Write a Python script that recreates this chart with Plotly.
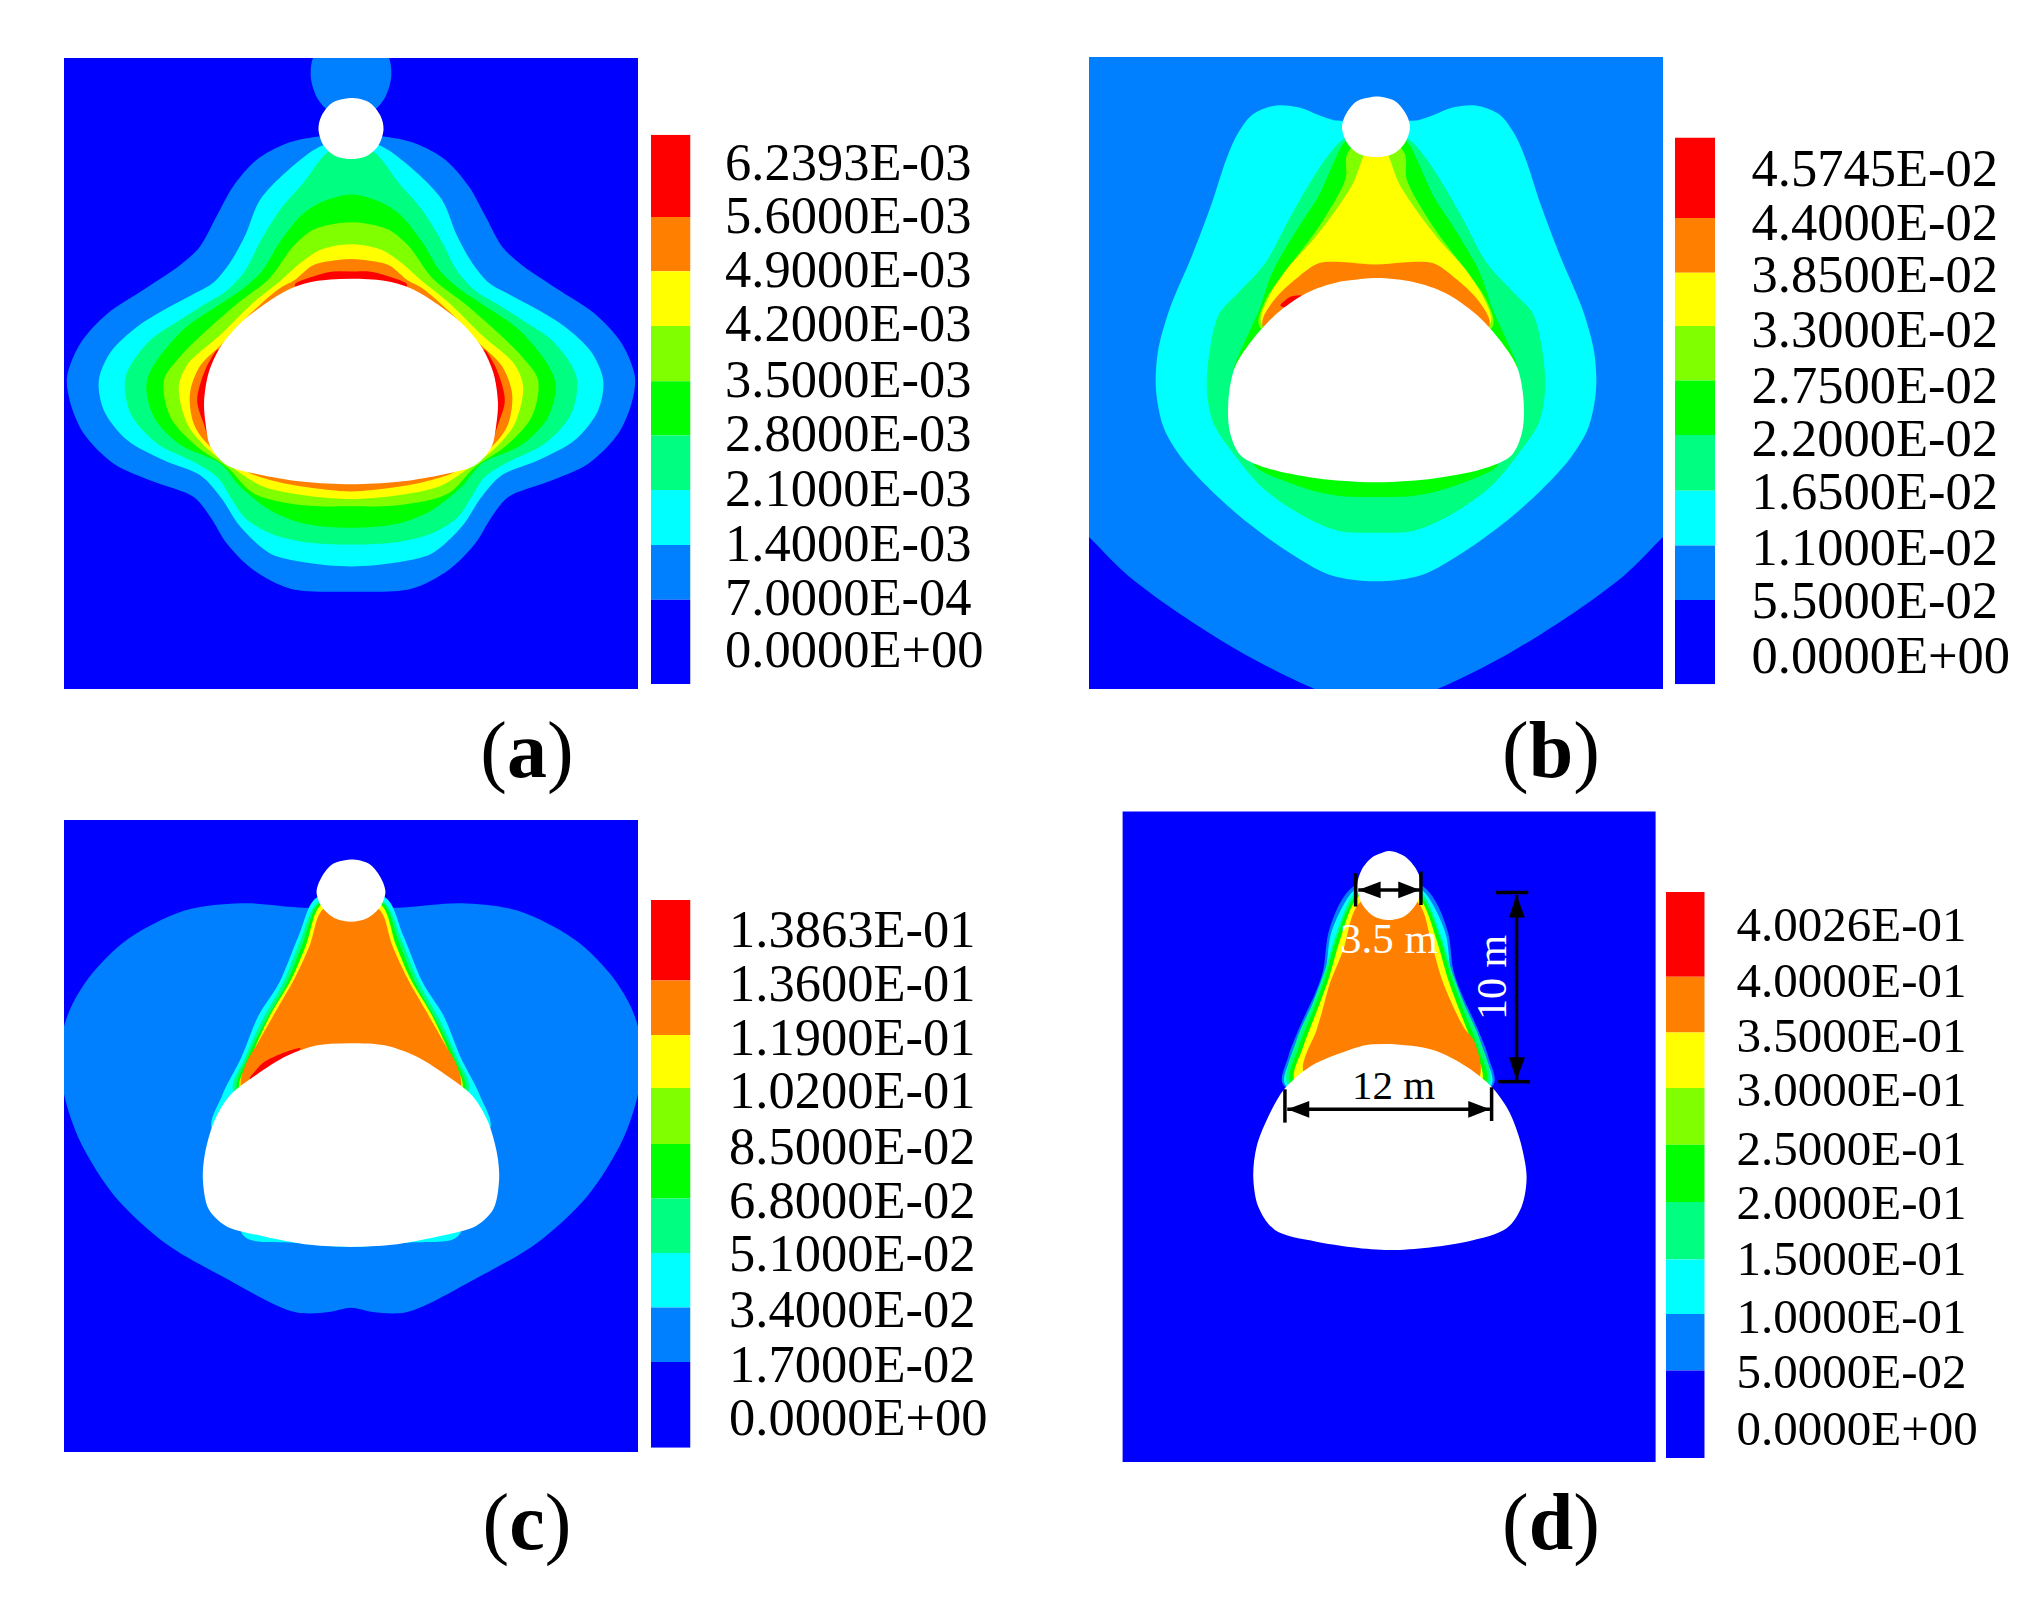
import plotly.graph_objects as go

W, H = 2036, 1606
SERIF = "Liberation Serif"
COLORS = ["#ff0000", "#ff8000", "#ffff00", "#80ff00", "#00ff00", "#00ff80", "#00ffff", "#0080ff", "#0000ff"]
C = dict(zip(["red", "orange", "yellow", "lime", "green", "spring", "cyan", "azure", "blue"], COLORS))

# ---- colour-bar labels ----
LABELS_A = ["6.2393E-03","5.6000E-03","4.9000E-03","4.2000E-03","3.5000E-03","2.8000E-03","2.1000E-03","1.4000E-03","7.0000E-04","0.0000E+00"]
LABELS_B = ["4.5745E-02","4.4000E-02","3.8500E-02","3.3000E-02","2.7500E-02","2.2000E-02","1.6500E-02","1.1000E-02","5.5000E-02","0.0000E+00"]
LABELS_C = ["1.3863E-01","1.3600E-01","1.1900E-01","1.0200E-01","8.5000E-02","6.8000E-02","5.1000E-02","3.4000E-02","1.7000E-02","0.0000E+00"]
LABELS_D = ["4.0026E-01","4.0000E-01","3.5000E-01","3.0000E-01","2.5000E-01","2.0000E-01","1.5000E-01","1.0000E-01","5.0000E-02","0.0000E+00"]
# segment edges and label rows of the colour bars
EDGES_A = [134.8,216.9,271.3,326.1,381.2,435.6,490,545,599.8,684]
ROWS_A = [161.2,214.4,268.8,322.8,378.3,432.7,487.5,543,596.5,648.5]
EDGES_B = [137.6,218,272.7,326,380.5,435,490.8,545.4,600,684.3]
ROWS_B = [167.3,221.8,273.8,328.3,384.2,437.4,490.5,546.5,599.5,654.2]
EDGES_C = [899.9,980.4,1034.9,1088.1,1144,1198.5,1253,1307.6,1362.1,1447.8]
ROWS_C = [928.5,983.1,1036.3,1089.5,1145.4,1199.9,1253.1,1309,1363.5,1416.8]
EDGES_D = [892,976.8,1032.6,1088,1144.8,1202,1259.6,1314,1370.6,1458]
ROWS_D = [924,980,1034.6,1089,1147.5,1202,1258,1316,1371,1427.6]

# ---- panel (a) contours: left half outlines, mirrored about x=787 ----
A_CIRCLE = [(787,-30),(692,35),(682,88),(700,140),(730,170),(787,190)]
A_AZURE = [(787,225),(697,230),(618,246),(540,285),(479,348),(435,420),(392,491),(340,535),(250,590),(150,650),(80,720),(45,800),(54,863),(89,935),(167,1006),(272,1049),(376,1085),(420,1133),(463,1196),(533,1259),(629,1303),(787,1310)]
A_CYAN = [(787,235),(706,253),(618,313),(549,380),(510,465),(470,530),(425,578),(370,606),(300,640),(230,680),(160,740),(128,808),(141,879),(202,950),(298,998),(394,1034),(446,1085),(498,1156),(577,1220),(664,1240),(787,1250)]
A_SPRING = [(787,235),(722,270),(662,340),(601,404),(549,480),(510,548),(460,597),(400,630),(340,665),(260,715),(198,800),(211,887),(280,958),(385,1006),(440,1040),(475,1090),(510,1135),(577,1172),(664,1192),(787,1198)]
A_GREEN = [(787,367),(723,380),(662,412),(601,480),(555,548),(505,590),(457,620),(340,695),(254,808),(272,895),(342,962),(446,1006),(498,1061),(577,1117),(664,1148),(787,1158)]
A_LIME = [(787,433),(749,436),(688,451),(636,490),(575,565),(479,634),(340,752),(298,808),(315,895),(385,966),(463,1014),(533,1077),(664,1105),(787,1107)]
A_YELLOW = [(787,485),(758,487),(706,499),(653,531),(605,570),(530,625),(440,705),(360,770),(337,824),(359,911),(411,970),(481,1018),(559,1061),(664,1081),(787,1090)]
A_ORANGE = [(787,520),(758,522),(688,535),(640,570),(600,590),(530,645),(450,722),(392,775),(366,840),(376,911),(411,958),(516,1026),(594,1049),(664,1061),(787,1072)]
A_RED_TOP = [(787,550),(740,550),(688,562),(640,582),(787,640)]
A_RED_SIDE = [(440,735),(410,775),(385,855),(402,911),(420,950),(450,850)]
A_TUNNEL = [(787,567),(700,572),(630,590),(560,628),(495,675),(445,730),(415,790),(403,860),(407,911),(420,966),(463,1010),(559,1034),(664,1049),(787,1055)]
A_SHAFT = [(787,138),(740,148),(710,180),(702,212),(715,250),(745,275),(787,283)]

# ---- panel (b): mirrored about x=800 ----
B_AZURE = [(800,-100),(-100,-100),(-100,1050),(50,1180),(150,1270),(300,1370),(460,1460),(640,1541),(800,1590)]
B_CYAN = [(800,190),(690,190),(650,178),(600,160),(540,155),(480,175),(440,220),(410,280),(370,390),(320,510),(260,640),(230,740),(225,830),(245,920),(290,990),(370,1070),(470,1150),(570,1215),(680,1270),(800,1285)]
B_SPRING = [(800,200),(715,235),(670,280),(620,350),(570,430),(510,530),(440,600),(390,650),(365,740),(358,830),(375,910),(430,985),(500,1060),(600,1125),(700,1165),(800,1170)]
B_GREEN_TOP = [(800,200),(720,240),(690,290),(650,370),(600,440),(530,550),(495,640),(470,690),(430,780),(500,720),(800,700)]
B_GREEN_BOT = [(800,900),(480,1005),(600,1060),(700,1082),(800,1085)]
B_LIME = [(800,200),(725,270),(720,330),(660,430),(580,530),(510,620),(495,680),(600,720),(800,700)]
B_YELLOW = [(800,200),(765,280),(740,340),(690,410),(630,480),(570,540),(520,610),(500,670),(600,720),(800,700)]
B_ORANGE = [(800,533),(730,528),(650,530),(600,560),(540,610),(505,660),(505,680),(600,720),(800,720)]
B_RED = [(550,630),(575,610),(605,607),(570,635)]
B_TUNNEL = [(800,565),(700,575),(620,600),(540,650),(470,720),(430,780),(414,860),(418,930),(445,985),(510,1015),(640,1040),(800,1050)]
B_SHAFT = [(800,134),(750,145),(722,175),(711,207),(725,245),(755,270),(800,278)]

# ---- panel (c): mirrored about x=787 ----
C_AZURE = [(787,235),(650,232),(500,222),(350,240),(200,310),(110,390),(55,470),(25,560),(25,620),(50,720),(85,800),(170,920),(300,1030),(450,1110),(640,1195),(730,1195),(787,1185)]
C_CYAN = [(787,200),(695,210),(650,300),(600,410),(545,490),(500,590),(450,680),(425,760),(787,800)]
C_CYAN_BOT = [(787,900),(500,1000),(520,1022),(640,1030),(787,1040)]
C_SPRING = [(787,200),(700,220),(655,310),(610,410),(555,500),(510,590),(480,670),(787,800)]
C_GREEN = [(787,200),(703,222),(662,315),(620,410),(565,500),(517,590),(490,670),(787,800)]
C_YELLOW = [(787,200),(706,228),(670,320),(630,405),(575,490),(525,590),(497,665),(787,800)]
C_ORANGE = [(787,200),(710,240),(680,320),(640,400),(590,480),(540,560),(510,610),(502,665),(787,800)]
C_RED = [(522,640),(560,600),(655,567),(600,615)]
C_TUNNEL = [(787,555),(700,560),(620,585),(540,630),(470,680),(430,740),(405,820),(400,880),(415,950),(460,990),(560,1015),(680,1035),(787,1040)]
C_SHAFT = [(787,118),(740,128),(710,160),(697,195),(710,230),(745,258),(787,266)]

# ---- panel (d): mirrored about x=565, orange given in full ----
D_AZURE = [(565,100),(460,140),(420,190),(385,280),(370,390),(350,450),(300,560),(265,650),(250,735),(565,800)]
D_CYAN = [(565,100),(463,150),(428,200),(392,285),(377,395),(357,455),(307,565),(272,655),(256,735),(565,800)]
D_SPRING = [(565,100),(463,160),(408,285),(372,400),(338,490),(290,600),(264,735),(565,800)]
D_GREEN = [(565,100),(465,170),(410,295),(377,410),(342,505),(295,625),(272,730),(565,800)]
D_YELLOW = [(565,100),(467,180),(420,300),(385,420),(348,520),(310,620),(285,725),(565,800)]
D_ORANGE = [(565,120),(470,200),(430,330),(390,430),(365,520),(350,570),(312,700),(565,800),(836,715),(825,610),(790,560),(730,430),(695,310),(660,195)]
D_TUNNEL = [(570,612),(500,615),(420,640),(330,680),(255,745),(210,820),(170,920),(160,1010),(175,1100),(225,1170),(350,1205),(570,1230),(800,1205),(920,1165),(965,1100),(980,1010),(960,900),(925,810),(875,740),(800,680),(700,630)]
D_SHAFT = [(568,33),(520,50),(485,90),(472,135),(485,190),(520,228),(568,240),(615,228),(650,190),(665,135),(650,90),(615,50)]
# dimension lines of panel (d)
DIM_LINES = [[(467,100),(467,200)],[(663,95),(663,195)],[(475,150),(660,150)],
             [(888,158),(985,158)],[(895,725),(990,725)],[(950,165),(950,720)],
             [(255,748),(255,848)],[(875,742),(875,843)],[(262,808),(870,808)]]
DIM_HEADS = [[(475,150),(542,125),(542,175)],[(660,150),(595,125),(595,175)],
             [(950,165),(927,233),(975,233)],[(950,720),(927,652),(975,652)],
             [(262,808),(328,783),(328,833)],[(870,808),(805,783),(805,833)]]

# placement of the four panels and bars on the page
PANELS = {
 "a": dict(box=(64,638,58,689), xr=(37,1537), yr=(1541,43), bar=(651,690.5), edges=EDGES_A, rows=ROWS_A, labels=LABELS_A, font=52.5, gap=23, cap=(527,757,"a"), ax=1),
 "b": dict(box=(1089,1663,57,689), xr=(50,1550), yr=(1541,40), bar=(1675,1715), edges=EDGES_B, rows=ROWS_B, labels=LABELS_B, font=52.5, gap=25, cap=(1551,757,"b"), ax=3),
 "c": dict(box=(64,638,820,1452), xr=(37,1537), yr=(1528,24), bar=(651,690.5), edges=EDGES_C, rows=ROWS_C, labels=LABELS_C, font=52.5, gap=27, cap=(527,1529,"c"), ax=5),
 "d": dict(box=(1122.6,1655.6,811.6,1462), xr=(-232,1367), yr=(1866,-85), bar=(1666,1704.7), edges=EDGES_D, rows=ROWS_D, labels=LABELS_D, font=49, gap=21, cap=(1551,1529,"d"), ax=7),
}

def mirror(half, cx):
    return half + [(2*cx-x, y) for x, y in reversed(half[1:-1])]

fig = go.Figure()

def blob(pts, color, ax, smooth=True):
    path = pts + pts[:2] if smooth else pts + pts[:1]
    fig.add_trace(go.Scatter(x=[p[0] for p in path], y=[p[1] for p in path], mode="lines", fill="toself",
                             fillcolor=color, hoverinfo="skip", showlegend=False,
                             line=dict(width=0, color=color, shape="spline" if smooth else "linear", smoothing=0.9),
                             xaxis=f"x{ax}", yaxis=f"y{ax}"))

def m(half, cx, color, ax, smooth=True):
    blob(mirror(half, cx), color, ax, smooth)

# panel a
for h, c in [(A_CIRCLE,"azure"),(A_AZURE,"azure"),(A_CYAN,"cyan"),(A_SPRING,"spring"),(A_GREEN,"green"),(A_LIME,"lime"),(A_YELLOW,"yellow"),(A_ORANGE,"orange"),(A_RED_TOP,"red")]:
    m(h, 787, C[c], 1)
blob(A_RED_SIDE, C["red"], 1)
blob([(2*787-x, y) for x, y in A_RED_SIDE], C["red"], 1)
m(A_TUNNEL, 787, "#ffffff", 1); m(A_SHAFT, 787, "#ffffff", 1)
# panel b
for h, c in [(B_AZURE,"azure"),(B_CYAN,"cyan"),(B_SPRING,"spring"),(B_GREEN_TOP,"green"),(B_GREEN_BOT,"green"),(B_LIME,"lime"),(B_YELLOW,"yellow"),(B_ORANGE,"orange")]:
    m(h, 800, C[c], 3)
blob(B_RED, C["red"], 3)
m(B_TUNNEL, 800, "#ffffff", 3); m(B_SHAFT, 800, "#ffffff", 3)
# panel c
for h, c in [(C_AZURE,"azure"),(C_CYAN,"cyan"),(C_CYAN_BOT,"cyan"),(C_SPRING,"spring"),(C_GREEN,"green"),(C_YELLOW,"yellow"),(C_ORANGE,"orange")]:
    m(h, 787, C[c], 5)
blob(C_RED, C["red"], 5)
m(C_TUNNEL, 787, "#ffffff", 5); m(C_SHAFT, 787, "#ffffff", 5)
# panel d
for h, c in [(D_AZURE,"azure"),(D_CYAN,"cyan"),(D_SPRING,"spring"),(D_GREEN,"green"),(D_YELLOW,"yellow")]:
    m(h, 565, C[c], 7)
blob(D_ORANGE, C["orange"], 7)
blob(D_TUNNEL, "#ffffff", 7); blob(D_SHAFT, "#ffffff", 7)
for seg in DIM_LINES:
    fig.add_trace(go.Scatter(x=[p[0] for p in seg], y=[p[1] for p in seg], mode="lines", hoverinfo="skip",
                             showlegend=False, line=dict(color="black", width=3.5), xaxis="x7", yaxis="y7"))
for tri in DIM_HEADS:
    blob(tri, "#000000", 7, smooth=False)

layout = dict(width=W, height=H, margin=dict(l=0, r=0, t=0, b=0, autoexpand=False), paper_bgcolor="white", plot_bgcolor="rgba(0,0,0,0)",
              barmode="overlay", showlegend=False)
shapes, annotations = [], []
caps_x, caps_y, caps_t = [], [], []
for key, p in PANELS.items():
    ax = p["ax"]; x0, x1, y0, y1 = p["box"]
    sx = "" if ax == 1 else str(ax)
    layout[f"xaxis{sx}"] = dict(domain=[x0/W, x1/W], range=list(p["xr"]), visible=False, anchor=f"y{ax}", fixedrange=True)
    layout[f"yaxis{sx}"] = dict(domain=[1-y1/H, 1-y0/H], range=list(p["yr"]), visible=False, anchor=f"x{ax}", fixedrange=True)
    shapes.append(dict(type="rect", xref=f"x{sx} domain", yref=f"y{sx} domain", x0=0, x1=1, y0=0, y1=1,
                       fillcolor=C["blue"], line=dict(width=0), layer="below"))
    # colour bar on its own axes
    bx = ax + 1
    e = p["edges"]
    fig.add_trace(go.Bar(x=[0]*9, base=e[:-1], y=[b-a for a, b in zip(e[:-1], e[1:])], width=1,
                         marker=dict(color=COLORS, line=dict(width=0)), hoverinfo="skip", showlegend=False,
                         xaxis=f"x{bx}", yaxis=f"y{bx}"))
    layout[f"xaxis{bx}"] = dict(domain=[p["bar"][0]/W, p["bar"][1]/W], range=[-0.5, 0.5], visible=False, anchor=f"y{bx}", fixedrange=True)
    layout[f"yaxis{bx}"] = dict(domain=[1-e[-1]/H, 1-e[0]/H], range=[e[-1], e[0]], anchor=f"x{bx}", side="right", automargin=False,
                                tickmode="array", tickvals=p["rows"], ticktext=p["labels"], ticks="outside",
                                ticklen=p["gap"], tickcolor="rgba(0,0,0,0)", showgrid=False, zeroline=False,
                                showline=False, fixedrange=True, tickfont=dict(family=SERIF, size=p["font"], color="black"))
    cx, cy, letter = p["cap"]
    caps_x.append(cx); caps_y.append(cy); caps_t.append(f"(<b>{letter}</b>)")

# panel captions on a whole-page pair of axes
fig.add_trace(go.Scatter(x=caps_x, y=caps_y, text=caps_t, mode="text", textposition="middle center",
                         textfont=dict(family=SERIF, size=80, color="black"), hoverinfo="skip", showlegend=False,
                         xaxis="x9", yaxis="y9"))
layout["xaxis9"] = dict(domain=[0, 1], range=[0, W], visible=False, anchor="y9", fixedrange=True)
layout["yaxis9"] = dict(domain=[0, 1], range=[H, 0], visible=False, anchor="x9", fixedrange=True)

for txt, x, y, col, ang, size in [("3.5 m",568,295,"white",0,43),("12 m",580,735,"black",0,41),("10 m",878,412,"white",-90,42)]:
    annotations.append(dict(xref="x7", yref="y7", x=x, y=y, text=txt, showarrow=False, textangle=ang,
                            font=dict(family=SERIF, size=size, color=col)))

layout["shapes"] = shapes
layout["annotations"] = annotations
fig.update_layout(**layout)
fig.write_html("out.html", config=dict(displayModeBar=False),
               post_script="document.body.style.margin='0';document.body.style.overflow='hidden';")
